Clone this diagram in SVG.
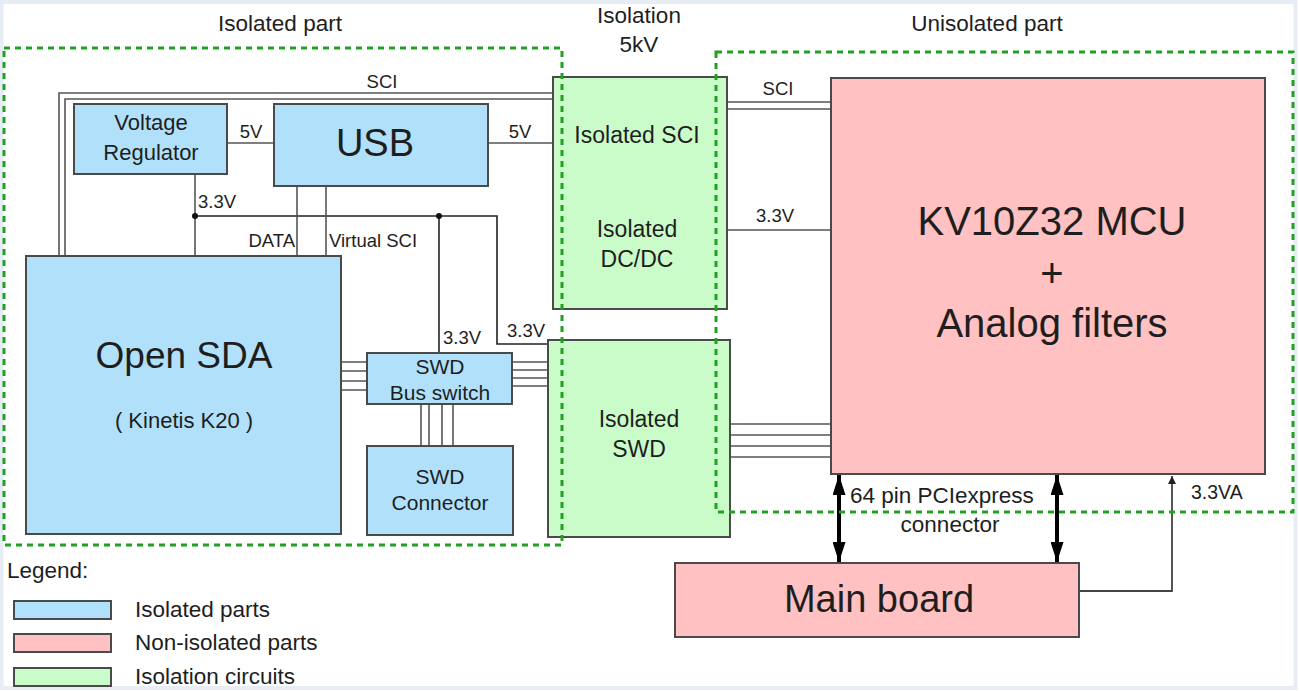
<svg xmlns="http://www.w3.org/2000/svg" width="1299" height="691" viewBox="0 0 1299 691">
<defs>
<style>
text{font-family:"Liberation Sans",Arial,sans-serif;fill:#1e1e1e}
.blue{fill:#b1e1fa;stroke:#4a4a4a;stroke-width:2}
.pink{fill:#ffc1c1;stroke:#4a4a4a;stroke-width:2}
.green{fill:#c9fcc9;stroke:#4a4a4a;stroke-width:2}
.w{fill:none;stroke:#555;stroke-width:1.6}
.b{fill:none;stroke:#222;stroke-width:1.6}
.zone{fill:none;stroke:#22a022;stroke-width:3;stroke-dasharray:6 5}
.lbl{font-size:18.5px}
.mid{text-anchor:middle}
.top{font-size:22.5px}
</style>
<marker id="ah" viewBox="0 0 20 13" refX="20" refY="6.5" markerWidth="20" markerHeight="13" orient="auto-start-reverse" markerUnits="userSpaceOnUse"><path d="M0,0 L20,6.5 L0,13 z" fill="#000"/></marker>
<marker id="ahs" viewBox="0 0 10 10" refX="10" refY="5" markerWidth="12" markerHeight="8" orient="auto" markerUnits="userSpaceOnUse"><path d="M0,0 L10,5 L0,10 z" fill="#222"/></marker>
</defs>
<rect x="0" y="0" width="1299" height="691" fill="#fff"/>
<rect x="1.5" y="2" width="1294" height="686" fill="none" stroke="#e6edf4" stroke-width="4"/>

<g id="connectors">
<path class="w" d="M59,256 V93 H553"/>
<path class="w" d="M65,256 V99 H553"/>
<path class="w" d="M227,143 H274"/>
<path class="w" d="M488,143 H553"/>
<path class="w" d="M195,174 V256"/>
<path class="b" d="M195,216 H497 V344 H548"/>
<path class="b" d="M439,216 V353"/>
<circle cx="195" cy="216" r="3" fill="#111"/>
<circle cx="439" cy="216" r="3" fill="#111"/>
<path class="w" d="M297,186 V256"/>
<path class="w" d="M326,186 V256"/>
<path class="w" d="M341,362 H367 M341,371 H367 M341,381 H367 M341,390 H367"/>
<path class="w" d="M512,362 H548 M512,370 H548 M512,378 H548 M512,386 H548"/>
<path class="w" d="M421,404 V446 M429,404 V446 M442,404 V446 M453,404 V446"/>
<path class="w" d="M727,102 H831 M727,109 H831"/>
<path class="w" d="M727,230 H831"/>
<path class="w" d="M730,424 H831 M730,435 H831 M730,446 H831 M730,457 H831"/>
<line x1="839" y1="475" x2="839" y2="562" stroke="#000" stroke-width="4" marker-start="url(#ah)" marker-end="url(#ah)"/>
<line x1="1057" y1="475" x2="1057" y2="562" stroke="#000" stroke-width="4" marker-start="url(#ah)" marker-end="url(#ah)"/>
<path d="M1079,591 H1172 V476" fill="none" stroke="#444" stroke-width="1.8" marker-end="url(#ahs)"/>
</g>

<g id="labels">
<text class="lbl mid" x="382" y="88">SCI</text>
<text class="lbl mid" x="251" y="138">5V</text>
<text class="lbl mid" x="520" y="138">5V</text>
<text class="lbl" x="198" y="208">3.3V</text>
<text class="lbl" x="295" y="247" text-anchor="end">DATA</text>
<text class="lbl" x="329" y="247">Virtual SCI</text>
<text class="lbl" x="443" y="344">3.3V</text>
<text class="lbl" x="507" y="337">3.3V</text>
<text class="lbl mid" x="778" y="95">SCI</text>
<text class="lbl mid" x="775" y="222">3.3V</text>
<text x="850" y="503" font-size="22.5">64 pin PCIexpress</text>
<text class="mid" x="950" y="532" font-size="22.5">connector</text>
<text x="1191" y="499" font-size="19.5">3.3VA</text>
<text class="mid top" x="280" y="31">Isolated part</text>
<text class="mid top" x="639" y="23">Isolation</text>
<text class="mid top" x="639" y="52">5kV</text>
<text class="mid top" x="987" y="31">Unisolated part</text>
</g>

<g id="voltage-regulator">
<rect class="blue" x="74" y="104" width="153" height="70"/>
<text class="mid" x="151" y="130" font-size="22">Voltage</text>
<text class="mid" x="151" y="160" font-size="22">Regulator</text>
</g>
<g id="usb">
<rect class="blue" x="274" y="104" width="214" height="82"/>
<text class="mid" x="375" y="156" font-size="38">USB</text>
</g>
<g id="open-sda">
<rect class="blue" x="26" y="256" width="315" height="278"/>
<text class="mid" x="184" y="368" font-size="37">Open SDA</text>
<text class="mid" x="184" y="428" font-size="22">( Kinetis K20 )</text>
</g>
<g id="swd-bus-switch">
<rect class="blue" x="367" y="353" width="145" height="51"/>
<text class="mid" x="440" y="374" font-size="21">SWD</text>
<text class="mid" x="440" y="400" font-size="21">Bus switch</text>
</g>
<g id="swd-connector">
<rect class="blue" x="367" y="446" width="146" height="89"/>
<text class="mid" x="440" y="484" font-size="21">SWD</text>
<text class="mid" x="440" y="510" font-size="21">Connector</text>
</g>
<g id="isolated-sci-dcdc">
<rect class="green" x="553" y="77" width="174" height="232"/>
<text class="mid" x="637" y="143" font-size="23">Isolated SCI</text>
<text class="mid" x="637" y="237" font-size="23">Isolated</text>
<text class="mid" x="637" y="267" font-size="23">DC/DC</text>
</g>
<g id="isolated-swd">
<rect class="green" x="548" y="340" width="182" height="197"/>
<text class="mid" x="639" y="427" font-size="23">Isolated</text>
<text class="mid" x="639" y="457" font-size="23">SWD</text>
</g>
<g id="mcu">
<rect class="pink" x="831" y="78" width="434" height="396"/>
<text class="mid" x="1052" y="235" font-size="40">KV10Z32 MCU</text>
<text class="mid" x="1052" y="287" font-size="40">+</text>
<text class="mid" x="1052" y="337" font-size="40">Analog filters</text>
</g>
<g id="main-board">
<rect class="pink" x="675" y="563" width="404" height="74"/>
<text class="mid" x="879" y="612" font-size="38">Main board</text>
</g>

<g id="zones">
<rect class="zone" x="4" y="48" width="558" height="497"/>
<rect class="zone" x="716" y="52" width="577" height="460"/>
</g>

<g id="legend">
<text x="7" y="578" font-size="22.5">Legend:</text>
<rect class="blue" x="14" y="601" width="97" height="18"/>
<text x="135" y="617" font-size="22.5">Isolated parts</text>
<rect class="pink" x="14" y="634" width="97" height="18"/>
<text x="135" y="650" font-size="22.5">Non-isolated parts</text>
<rect class="green" x="14" y="668" width="97" height="18"/>
<text x="135" y="684" font-size="22.5">Isolation circuits</text>
</g>
</svg>
